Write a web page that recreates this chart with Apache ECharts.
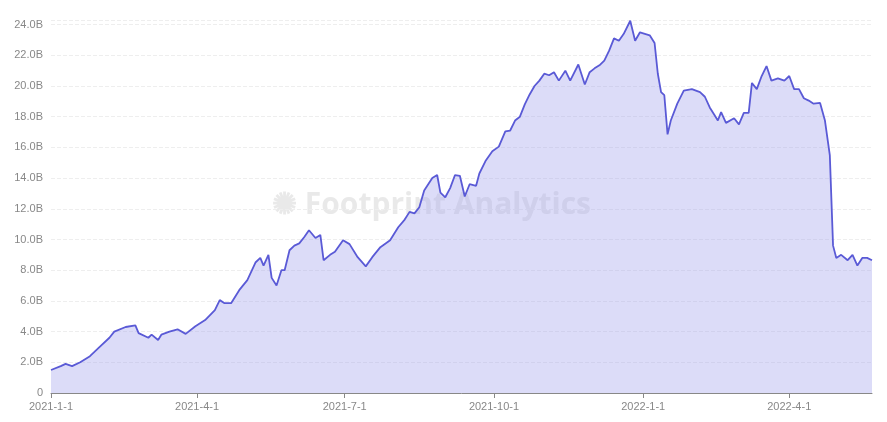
<!DOCTYPE html>
<html><head><meta charset="utf-8">
<script src="https://cdn.jsdelivr.net/npm/echarts@6/dist/echarts.min.js"></script>
<style>html,body{margin:0;padding:0;background:#fff}#c{width:887px;height:422px}</style>
</head><body><div id="c"></div>
<script>
const dates = ["2021-01-01","2021-01-07","2021-01-10","2021-01-14","2021-01-19","2021-01-25","2021-01-31","2021-02-06","2021-02-09","2021-02-16","2021-02-22","2021-02-24","2021-03-02","2021-03-04","2021-03-08","2021-03-10","2021-03-15","2021-03-20","2021-03-25","2021-03-31","2021-04-06","2021-04-12","2021-04-15","2021-04-18","2021-04-22","2021-04-27","2021-05-02","2021-05-07","2021-05-10","2021-05-12","2021-05-15","2021-05-17","2021-05-20","2021-05-23","2021-05-25","2021-05-28","2021-05-31","2021-06-03","2021-06-06","2021-06-09","2021-06-13","2021-06-16","2021-06-18","2021-06-22","2021-06-25","2021-06-30","2021-07-04","2021-07-09","2021-07-14","2021-07-18","2021-07-23","2021-07-29","2021-08-03","2021-08-07","2021-08-10","2021-08-13","2021-08-16","2021-08-19","2021-08-24","2021-08-27","2021-08-29","2021-09-01","2021-09-04","2021-09-07","2021-09-10","2021-09-13","2021-09-16","2021-09-20","2021-09-22","2021-09-26","2021-09-30","2021-10-04","2021-10-08","2021-10-11","2021-10-14","2021-10-17","2021-10-20","2021-10-23","2021-10-26","2021-10-29","2021-11-01","2021-11-04","2021-11-07","2021-11-10","2021-11-14","2021-11-17","2021-11-22","2021-11-26","2021-11-29","2021-12-02","2021-12-05","2021-12-08","2021-12-11","2021-12-14","2021-12-17","2021-12-20","2021-12-24","2021-12-27","2021-12-30","2022-01-02","2022-01-05","2022-01-08","2022-01-10","2022-01-12","2022-01-14","2022-01-16","2022-01-18","2022-01-22","2022-01-26","2022-01-31","2022-02-05","2022-02-08","2022-02-11","2022-02-14","2022-02-16","2022-02-18","2022-02-21","2022-02-26","2022-03-01","2022-03-04","2022-03-07","2022-03-09","2022-03-12","2022-03-15","2022-03-18","2022-03-21","2022-03-25","2022-03-29","2022-04-01","2022-04-04","2022-04-07","2022-04-10","2022-04-13","2022-04-16","2022-04-20","2022-04-23","2022-04-26","2022-04-28","2022-04-30","2022-05-03","2022-05-07","2022-05-10","2022-05-13","2022-05-16","2022-05-19","2022-05-22"];
const valuesB = [1.5,1.75,1.9,1.75,2.0,2.4,3.0,3.6,4.0,4.3,4.4,3.9,3.6,3.8,3.45,3.8,4.0,4.15,3.85,4.35,4.75,5.4,6.05,5.85,5.85,6.7,7.35,8.5,8.8,8.3,9.0,7.5,7.0,8.0,8.0,9.3,9.6,9.75,10.15,10.6,10.1,10.3,8.65,9.0,9.2,9.95,9.7,8.85,8.25,8.85,9.5,9.95,10.8,11.3,11.8,11.7,12.1,13.2,14.0,14.2,13.05,12.75,13.35,14.2,14.15,12.8,13.6,13.5,14.3,15.15,15.75,16.05,17.05,17.1,17.75,18.0,18.8,19.45,20.0,20.35,20.8,20.7,20.9,20.35,21.0,20.35,21.4,20.1,20.9,21.15,21.35,21.65,22.3,23.1,22.95,23.4,24.25,22.95,23.5,23.4,23.3,22.8,20.8,19.6,19.4,16.85,17.75,18.85,19.7,19.8,19.6,19.3,18.6,18.1,17.75,18.3,17.6,17.9,17.5,18.25,18.25,20.2,19.8,20.65,21.3,20.35,20.5,20.35,20.65,19.8,19.8,19.2,19.05,18.85,18.9,17.75,15.5,9.6,8.8,9.0,8.65,9.0,8.3,8.8,8.8,8.65];
const tickDates = ["2021-01-01","2021-04-01","2021-07-01","2021-10-01","2022-01-01","2022-04-01"];
const tickLabels = ["2021-1-1","2021-4-1","2021-7-1","2021-10-1","2022-1-1","2022-4-1"];

const ts = s => new Date(s + "T00:00:00Z").getTime();
const tickTs = tickDates.map(ts);
const chart = echarts.init(document.getElementById('c'));
chart.setOption({
  animation:false,
  grid:{left:51,right:15,top:20,bottom:29},
  graphic:[{type:'text',left:272,top:190,style:{text:'✺ Footprint Analytics',font:'bold 30px "Open Sans", sans-serif',fill:'rgba(175,175,175,0.28)'}}],
  xAxis:{type:'value',min:ts(dates[0]),max:ts(dates[dates.length-1]),
    axisLine:{lineStyle:{color:'#888'}},
    axisTick:{show:true,customValues:tickTs,lineStyle:{color:'#888'}},
    axisLabel:{customValues:tickTs,color:'#888',fontSize:11,
      formatter:v=>{const i=tickTs.indexOf(v);return i>=0?tickLabels[i]:'';}},
    splitLine:{show:false}},
  yAxis:{type:'value',min:0,max:24.3,interval:2,
    axisLine:{show:false},axisTick:{show:false},
    axisLabel:{color:'#888',fontSize:11,formatter:v=>(Math.abs(v%2)<1e-6&&v<=24)?(v===0?'0':v.toFixed(1)+'B'):''},
    splitLine:{lineStyle:{color:'#eee',type:'dashed'}}},
  series:[{type:'line',data:dates.map((d,i)=>[ts(d),valuesB[i]]),showSymbol:false,
    lineStyle:{color:'#5a5ad6',width:1.8},itemStyle:{color:'#5a5ad6'},
    areaStyle:{color:'rgba(165,165,236,0.55)'}}]
});
</script></body></html>
